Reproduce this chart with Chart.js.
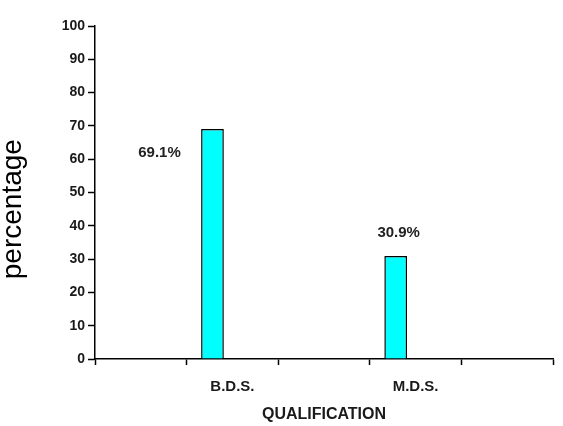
<!DOCTYPE html>
<html>
<head>
<meta charset="utf-8">
<script src="https://cdn.jsdelivr.net/npm/chart.js@4.4.1/dist/chart.umd.min.js"></script>
<style>
  html, body { margin: 0; padding: 0; background: #fff; }
  #wrap { width: 563px; height: 426px; }
</style>
</head>
<body>
<div id="wrap"><canvas id="chart1Canv"></canvas></div>
<script>
// categories along the x axis (empty slots keep the original spacing)
const qualLabels = ['', 'B.D.S.', '', 'M.D.S.', ''];
const qualValues = [null, 69.1, null, 30.9, null];
const qualText = [null, '69.1%', null, '30.9%', null];
const yTicks = [0, 10, 20, 30, 40, 50, 60, 70, 80, 90, 100];
const yTitle = 'percentage';

const fontFam = 'Liberation Sans, Arial, sans-serif';

// value labels + the y title, placed like in the original picture
const valueLabels = {
    id: 'valueLabels',
    afterDatasetsDraw(chart) {
        const ctx = chart.ctx;
        const meta = chart.getDatasetMeta(0);
        ctx.save();
        ctx.font = 'bold 15px ' + fontFam;
        ctx.fillStyle = '#222';
        ctx.textAlign = 'center';
        ctx.textBaseline = 'middle';
        meta.data.forEach((bar, i) => {
            if (!qualText[i]) return;
            if (i == 1) {
                ctx.fillText(qualText[i], bar.x - 53, bar.y + 24);
            } else {
                ctx.fillText(qualText[i], bar.x + 3, bar.y - 23);
            }
        });
        // y axis title sits a bit below the middle of the axis
        const y = chart.scales.y;
        ctx.translate(13, y.getPixelForValue(45));
        ctx.rotate(-Math.PI / 2);
        ctx.font = '28px ' + fontFam;
        ctx.fillStyle = '#000';
        ctx.fillText(yTitle, 0, 0);
        ctx.restore();
    }
};

const chart1Canv = document.getElementById('chart1Canv');
const chart1Chart = new Chart(chart1Canv, {
    type: 'bar',
    data: {
        labels: qualLabels,
        datasets: [{
            label: 'percentage',
            data: qualValues,
            backgroundColor: '#00FFFF',
            borderColor: '#000',
            borderWidth: 1.5,
            categoryPercentage: 0.87,
            barPercentage: 0.57
        },
        {
            label: 'empty',       // second series of the group, has no bars
            data: [],
            categoryPercentage: 0.87,
            barPercentage: 0.57
        }]
    },
    options: {
        responsive: true,
        maintainAspectRatio: false,
        animation: false,
        layout: {padding: {top: 26, right: 10, left: 0, bottom: 0}},
        plugins: {
            legend: {display: false},
            tooltip: {enabled: false}
        },
        scales: {
            x: {
                grid: {
                    offset: true,
                    drawOnChartArea: false,
                    color: '#000',
                    tickLength: 6,
                    tickWidth: 1.5
                },
                border: {color: '#000', width: 1.5},
                ticks: {color: '#1a1a1a', font: {family: fontFam, size: 15, weight: 'bold'}, padding: 13, maxRotation: 0},
                title: {
                    display: true,
                    text: 'QUALIFICATION',
                    color: '#1a1a1a',
                    font: {family: fontFam, size: 16, weight: 'bold'},
                    padding: {top: 8, bottom: 2}
                },
                afterFit: scale => { scale.height = 67; }
            },
            y: {
                min: 0,
                max: 100,
                afterBuildTicks: scale => { scale.ticks = yTicks.map(v => ({value: v})); },
                grid: {
                    drawOnChartArea: false,
                    color: '#000',
                    tickLength: 7,
                    tickWidth: 1.5
                },
                border: {color: '#000', width: 1.5},
                ticks: {color: '#1a1a1a', font: {family: fontFam, size: 14, weight: 'bold'}, padding: 3},
                afterFit: scale => { scale.width = 95; }
            }
        }
    },
    plugins: [valueLabels]
});
</script>
</body>
</html>
